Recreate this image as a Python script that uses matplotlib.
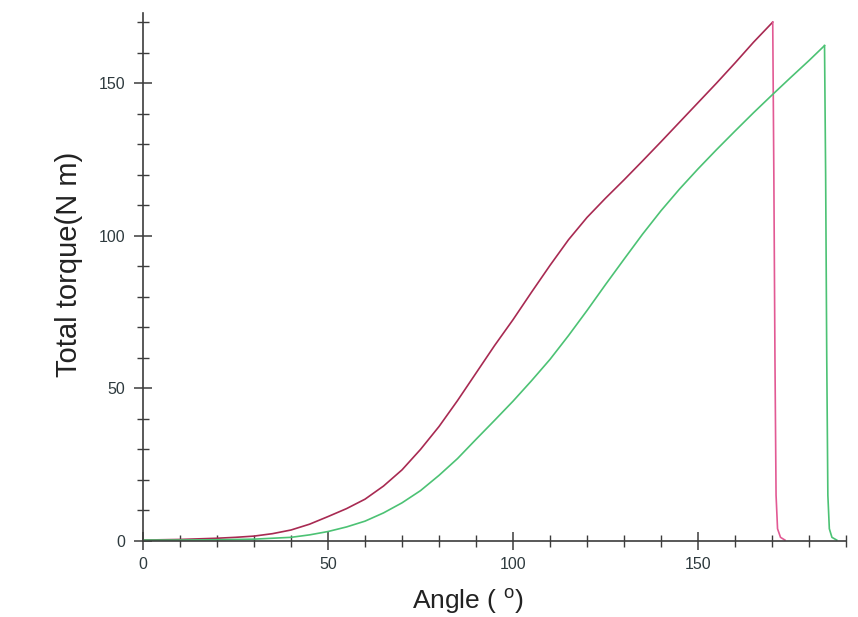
import matplotlib
matplotlib.use("Agg")
import matplotlib.pyplot as plt
from matplotlib.ticker import MultipleLocator

plt.rcParams['font.family'] = ['Liberation Sans', 'DejaVu Sans']
plt.rcParams['mathtext.fontset'] = 'custom'
plt.rcParams['mathtext.rm'] = 'Liberation Sans'
plt.rcParams['mathtext.it'] = 'Liberation Sans'

# Series 1 (red): angle (deg) and total torque (N m)
red_angle = [0, 5, 10, 15, 20, 25, 30, 35, 40, 45, 50, 55, 60, 65, 70, 75, 80,
             85, 90, 95, 100, 105, 110, 115, 120, 125, 130, 135, 140, 145, 150,
             155, 160, 165, 170.2]
red_torque = [0.3, 0.4, 0.5, 0.7, 0.9, 1.2, 1.6, 2.4, 3.6, 5.5, 8.0, 10.6, 13.7,
              18.0, 23.3, 30.0, 37.5, 46.0, 55.0, 64.0, 72.5, 81.5, 90.3, 98.7,
              106.0, 112.3, 118.3, 124.5, 130.8, 137.2, 143.6, 150.0, 156.6,
              163.4, 170.0]
# Failure drop of series 1
red_drop_angle = [170.2, 170.5, 170.8, 171.1, 171.5, 172.3, 173.5]
red_drop_torque = [170, 120, 60, 15, 4, 1.2, 0.3]

# Series 2 (green)
green_angle = [0, 10, 20, 30, 40, 45, 50, 55, 60, 65, 70, 75, 80, 85, 90, 95,
               100, 105, 110, 115, 120, 125, 130, 135, 140, 145, 150, 155, 160,
               165, 170, 175, 180, 184.2]
green_torque = [0.3, 0.3, 0.4, 0.6, 1.2, 2.0, 3.1, 4.6, 6.5, 9.2, 12.5, 16.5,
                21.5, 27.0, 33.3, 39.5, 45.8, 52.5, 59.5, 67.3, 75.5, 84.0, 92.3,
                100.5, 108.2, 115.3, 121.9, 128.2, 134.3, 140.3, 146.1, 151.8,
                157.4, 162.3]
green_drop_angle = [184.2, 184.5, 184.8, 185.1, 185.5, 186.2, 187.5]
green_drop_torque = [162.3, 120, 60, 15, 4, 1.2, 0.3]

fig = plt.figure(figsize=(8.58, 6.17), dpi=100)
ax = fig.add_axes([0.1667, 0.1232, 0.8193, 0.8558])

ax.plot(red_angle, red_torque, color='#a82a52', lw=1.2)
ax.plot(red_drop_angle, red_drop_torque, color='#e25a94', lw=1.2)
ax.plot(green_angle, green_torque, color='#4cc274', lw=1.2)
ax.plot(green_drop_angle, green_drop_torque, color='#4cc274', lw=1.2)

ax.set_xlim(0, 190)
ax.set_ylim(0, 173)

for s in ['top', 'right']:
    ax.spines[s].set_visible(False)
for s in ['left', 'bottom']:
    ax.spines[s].set_color('#3c3c3c')
    ax.spines[s].set_linewidth(1.2)

ax.xaxis.set_major_locator(MultipleLocator(50))
ax.xaxis.set_minor_locator(MultipleLocator(10))
ax.yaxis.set_major_locator(MultipleLocator(50))
ax.yaxis.set_minor_locator(MultipleLocator(10))

ax.tick_params(which='major', direction='inout', length=13.5, width=1.1,
               color='#3c3c3c', labelsize=11.5, labelcolor='#2e3a3e', pad=5)
ax.tick_params(which='minor', direction='inout', length=8.5, width=1.0,
               color='#3c3c3c')
ax.tick_params(axis='y', which='major', pad=6)

fig.text(0.080, 0.572, 'Total torque(N m)', rotation=90, ha='center',
         va='center', fontsize=21, color='#222222')
fig.text(0.545, 0.025, r'Angle ( $^{\mathrm{o}}$)', ha='center', va='center',
         fontsize=19, color='#222222')

fig.savefig('out.png', dpi=100, facecolor='white')
